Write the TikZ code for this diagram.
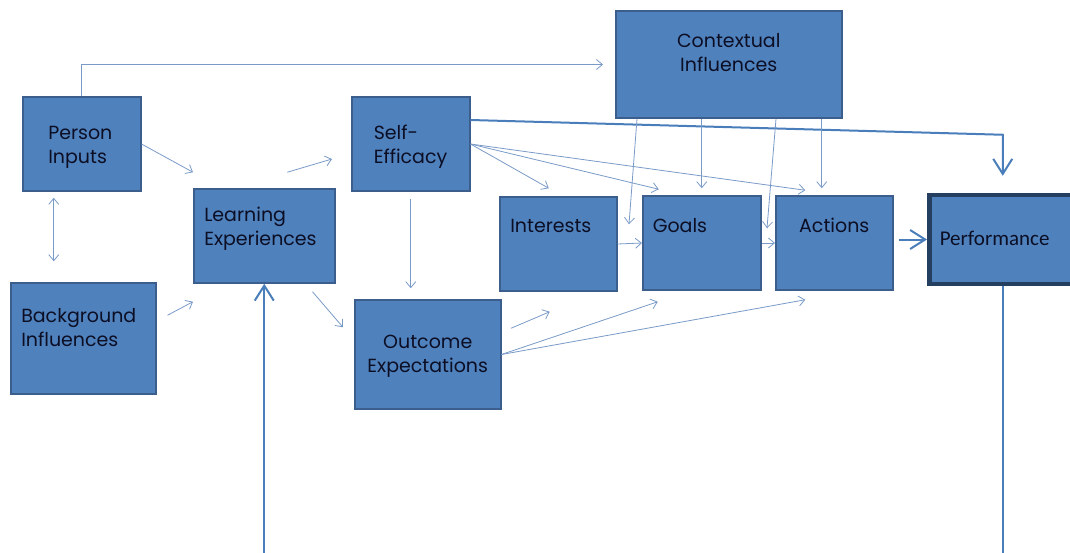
\documentclass[tikz,border=0pt]{standalone}
\usepackage{fontspec}
\setmainfont{Poppins}
\newfontfamily\perffont{Carlito}
\usepackage{xcolor}
\usetikzlibrary{arrows.meta}

\definecolor{boxfill}{HTML}{4F81BD}
\definecolor{boxline}{HTML}{3B5E8C}
\definecolor{perfline}{HTML}{243F60}
\definecolor{thinline}{HTML}{7A9AC8}
\definecolor{thickline}{HTML}{4A7EBB}
\definecolor{txt}{HTML}{0C0E24}

\begin{document}
\begin{tikzpicture}[x=1pt, y=-1pt, >={Straight Barb[length=6pt,width=10pt]},
		box/.style={draw=boxline, fill=boxfill, line width=1.5pt, inner ysep=0pt, anchor=base west, align=left, text=txt, font=\fontsize{19pt}{24pt}\selectfont},
		dims/.style n args={4}{inner xsep=#1pt, text width=#2pt, text height=#3pt, text depth=#4pt},
		flow/.style={->, draw=thinline, line width=0.8pt},
		mainflow/.style={draw=thickline, line width=2pt, -{Straight Barb[length=15pt,width=19pt]}},
		loopline/.style={draw=thickline, line width=2pt}]
		\useasboundingbox (0,0) rectangle (1070,552);
		\clip (0,0) rectangle (1070,552);

		\node[box, dims={25.5}{67}{42}{52}] (person) at (22,139) {Person\\Inputs};
		\node[box, dims={22}{74}{42}{52}] (self) at (351,139) {Self-\\Efficacy};
		\node[box, dims={10.5}{120}{32}{62}] (learn) at (193,221) {Learning\\Experiences};
		\node[box, dims={10.5}{124}{39}{72}] (back) at (10,322) {Background\\Influences};
		\node[box, align=center, dims={5}{136}{48}{61}] (outc) at (354,348) {Outcome\\Expectations};
		\node[box, align=center, dims={5}{216}{36}{71}] (context) at (615,47) {Contextual\\Influences};
		\node[box, dims={10.5}{96}{35}{59}] (inter) at (499,232) {Interests};
		\node[box, dims={10}{98}{36}{58}] (goals) at (642,232) {Goals};
		\node[box, align=center, dims={5}{107}{36}{58}] (actions) at (775,232) {Actions};
		\node[box, draw=perfline, line width=4.5pt, font=\perffont\fontsize{21pt}{26pt}\selectfont, dims={10.5}{138}{50}{39}] (perf) at (927,245) {Performance};

		\coordinate (loopL) at (learn.south |- 0,560);
		\coordinate (loopR) at ([xshift=-6]perf.south |- 0,560);

		\draw[flow, shorten >=12pt] (person.north) |- (context.west);
		\draw[flow] (person.east) -- ([yshift=16]learn.north west);
		\draw[flow, <->, shorten <=6pt, shorten >=21pt] ([xshift=-28]person.south) -- ([xshift=-28]person.south |- back.north);
		\draw[flow] ([xshift=11,yshift=-33]back.north east) -- ([yshift=-18]learn.south west);
		\draw[flow] ([xshift=23,yshift=16]learn.north) -- ([xshift=-19,yshift=-15]self.west);
		\draw[flow] ([xshift=-23,yshift=-8]learn.south east) -- ([xshift=-11,yshift=-28]outc.north west);
		\draw[flow, shorten <=7pt, shorten >=11pt] (self.south) -- (self.south |- outc.north);

		\draw[flow] (self.east) -- ([xshift=-9.5,yshift=8]inter.north);
		\draw[flow] (self.east) -- ([xshift=-43,yshift=6]goals.north);
		\draw[flow] (self.east) -- ([xshift=-29,yshift=5]actions.north);
		\draw[mainflow, shorten >=17pt] ([yshift=24]self.east) -- ([xshift=-6,yshift=58]perf.north) -- ([xshift=-6]perf.north);

		\draw[flow] ([xshift=22]context.south west) -- ([xshift=-13,yshift=-29]goals.north west);
		\draw[flow, shorten >=7pt] (goals.north |- context.south) -- (goals.north);
		\draw[flow] ([xshift=-66.5]context.south east) -- ([xshift=-8,yshift=-33]actions.north west);
		\draw[flow, shorten >=7pt] ([xshift=-12.5]actions.north |- context.south) -- ([xshift=-12.5]actions.north);

		\draw[flow] (inter.east) -- (goals.west);
		\draw[flow] (goals.east) -- (actions.west);
		\draw[mainflow, shorten <=5pt] (actions.east |- perf.west) -- (perf.west);

		\draw[flow] ([xshift=9.5,yshift=-29]outc.north east) -- ([xshift=-8.5,yshift=-20]inter.south);
		\draw[flow] (outc.east) -- ([xshift=-44,yshift=-11]goals.south);
		\draw[flow] (outc.east) -- ([xshift=-29,yshift=-9]actions.south);

		\draw[loopline] ([xshift=-6]perf.south) -- (loopR);
		\draw[mainflow] (loopL) -- (learn.south);
	\end{tikzpicture}
\end{document}
